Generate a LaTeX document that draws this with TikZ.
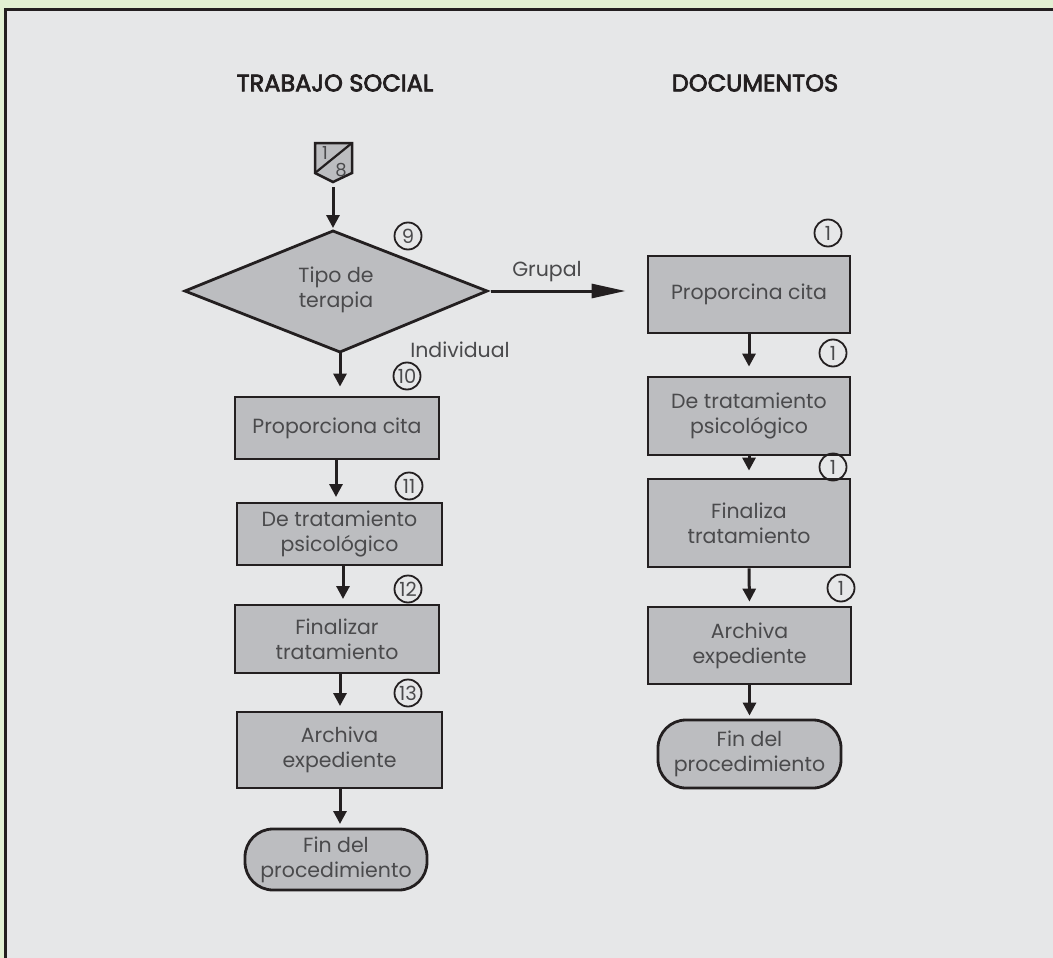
\documentclass[tikz,border=0pt]{standalone}
\usepackage{fontspec}
\setmainfont{Poppins}
\newfontfamily\headfont{Poppins}[FakeBold=3]
\usetikzlibrary{arrows.meta}
\definecolor{bggreen}{HTML}{E2F0D3}
\definecolor{panel}{HTML}{E6E7E8}
\definecolor{boxfill}{HTML}{BCBDC0}
\definecolor{ink}{HTML}{231F20}
\definecolor{txt}{HTML}{4A4A4C}
\begin{document}
\begin{tikzpicture}[x=1pt,y=-1pt,
  proc/.style={draw=ink, fill=boxfill, line width=2.8pt, align=center, text=txt,
    font=\fontsize{20.5}{25}\selectfont, inner sep=0pt},
  term/.style={proc, rounded corners=28pt},
  numc/.style={circle, draw=ink, line width=1.8pt, minimum size=27pt, inner sep=0pt,
    text=txt, font=\fontsize{19.5}{19.5}\selectfont},
  arr/.style={draw=ink, line width=3pt, -{Triangle[length=13pt,width=13pt]}},
  longarr/.style={draw=ink, line width=3pt, -{Triangle[length=34pt,width=14pt]}},
  head/.style={text=ink, font=\fontsize{24}{28}\headfont},
  lbl/.style={text=txt, font=\fontsize{20.5}{25}\selectfont}]
\useasboundingbox (0,0) rectangle (1053,958);
\fill[bggreen] (0,0) rectangle (1053,958);
\filldraw[fill=panel, draw=ink, line width=3pt] (5.5,9.5) rectangle (1070,975);

% headers
\node[head] (h1) at (335,83) {TRABAJO SOCIAL};
\node[head] (h2) at (755,83) {DOCUMENTOS};

% off-page connector
\coordinate (oa) at (315,143);
\coordinate (ob) at (352,143);
\coordinate (oc) at (352,173);
\coordinate (od) at (333,182);
\coordinate (oe) at (315,173);
\filldraw[fill=boxfill, draw=ink, line width=2.5pt, line join=miter] (oa) -- (ob) -- (oc) -- (od) -- (oe) -- cycle;
\draw[ink, line width=2.2pt] (oe) -- (ob);
\node[text=txt, font=\fontsize{18}{18}\selectfont] (o1) at (325,153) {1};
\node[text=txt, font=\fontsize{18}{18}\selectfont] (o8) at (341,170) {8};

% decision
\coordinate (dt) at (333,231);
\coordinate (dr) at (487,291);
\coordinate (db) at (340,352);
\coordinate (dl) at (185,291);
\filldraw[fill=boxfill, draw=ink, line width=2.8pt, line join=miter] (dt) -- (dr) -- (db) -- (dl) -- cycle;
\node[lbl, align=center] (dtext) at (336,290) {Tipo de\\terapia};
\node[numc] (n9) at (408,236) {9};

% left column
\node[proc, minimum width=204pt, minimum height=62pt] (b1) at (337,428) {Proporciona cita};
\node[proc, minimum width=205pt, minimum height=62pt] (b2) at (339.5,534) {De tratamiento\\psicológico};
\node[proc, minimum width=204pt, minimum height=68pt] (b3) at (337,639) {Finalizar\\tratamiento};
\node[proc, minimum width=205pt, minimum height=76pt] (b4) at (339.5,750) {Archiva\\expediente};
\node[term, minimum width=182pt, minimum height=61pt] (t1) at (336,859.5) {Fin del\\procedimiento};

\node[numc] (n10) at (407,376) {10};
\node[numc] (n11) at (409,486) {11};
\node[numc] (n12) at (408,589) {12};
\node[numc] (n13) at (408,693) {13};

% right column
\node[proc, minimum width=202pt, minimum height=77pt] (r1) at (749,294.5) {Proporcina cita};
\node[proc, minimum width=202pt, minimum height=78pt] (r2) at (749,416) {De tratamiento\\psicológico};
\node[proc, minimum width=202pt, minimum height=88pt] (r3) at (749,523) {Finaliza\\tratamiento};
\node[proc, minimum width=203pt, minimum height=77pt] (r4) at (749.5,645.5) {Archiva\\expediente};
\node[term, minimum width=183pt, minimum height=68pt] (t2) at (749.5,754) {Fin del\\procedimiento};

\node[numc] (m1) at (828,233) {1};
\node[numc] (m2) at (833,353) {1};
\node[numc] (m3) at (833,467) {1};
\node[numc] (m4) at (841,588) {1};

% connectors
\draw[arr, shorten <=5pt, shorten >=3pt] (od) -- (dt);
\draw[longarr, shorten <=4pt, shorten >=21pt] (dr) -- (dr -| r1.west);
\node[lbl] (lg) at (547,272) {Grupal};
\draw[arr, shorten >=9pt] (db) -- (db |- b1.north);
\node[lbl] (li) at (460,350) {Individual};
\draw[arr, shorten >=6pt] (336,459) -- (336,503);
\draw[arr, shorten >=6pt] (343,565) -- (343,605);
\draw[arr, shorten >=6pt] (340,673) -- (340,712);
\draw[arr, shorten >=5pt] (340,788) -- (340,829);

\draw[arr, shorten >=9pt] (r1.south) -- (r2.north);
\draw[arr, shorten >=7pt] (r2.south) -- (r3.north);
\draw[arr, shorten >=4pt] (r3.south) -- (r4.north);
\draw[arr, shorten >=3pt] (r4.south) -- (r4.south |- t2.north);
\end{tikzpicture}
\end{document}
